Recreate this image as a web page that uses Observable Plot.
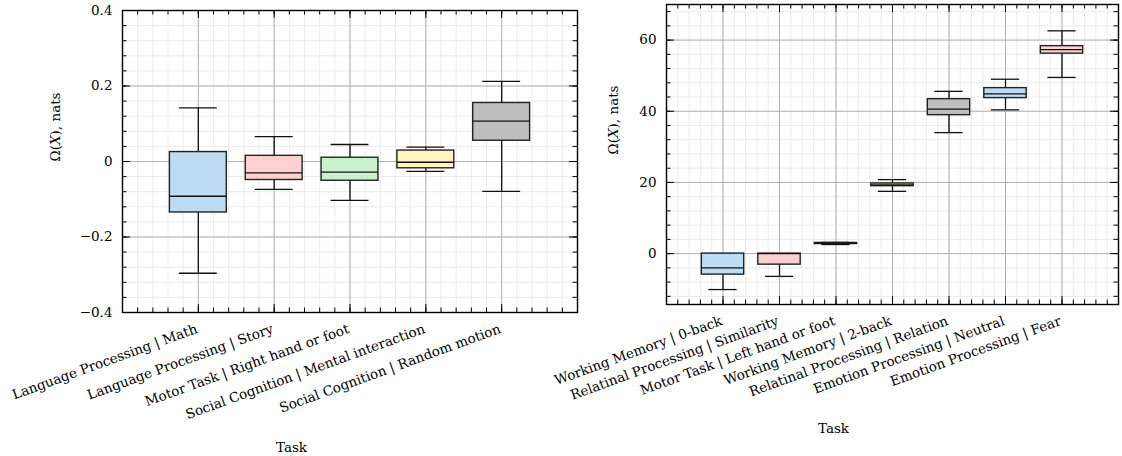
<!DOCTYPE html>
<html><head><meta charset="utf-8">
<script src="https://cdn.jsdelivr.net/npm/d3@7"></script>
<script src="https://cdn.jsdelivr.net/npm/@observablehq/plot@0.6"></script>
<style>
body{margin:0;background:#fff}
#fig{display:flex;width:1122px;height:456px;overflow:visible}
#fig svg{overflow:visible}
</style>
</head><body><div id="fig"></div>
<script>
// ---- Left panel data ----
const leftTasks = ["Language Processing | Math","Language Processing | Story","Motor Task | Right hand or foot","Social Cognition | Mental interaction","Social Cognition | Random motion"];
const leftLow  = [-0.296, -0.074, -0.103, -0.026, -0.079];
const leftQ1   = [-0.135, -0.049, -0.051, -0.018, 0.055];
const leftMed  = [-0.092, -0.030, -0.028, -0.002, 0.107];
const leftQ3   = [0.025, 0.015, 0.010, 0.029, 0.155];
const leftHigh = [0.142, 0.066, 0.045, 0.038, 0.212];
const leftYTicks = [-0.4, -0.2, 0, 0.2, 0.4];
const leftYTickLabels = ["\u22120.4", "\u22120.2", "0", "0.2", "0.4"];

// ---- Right panel data ----
const rightTasks = ["Working Memory | 0-back","Relatinal Processing | Similarity","Motor Task | Left hand or foot","Working Memory | 2-back","Relatinal Processing | Relation","Emotion Processing | Neutral","Emotion Processing | Fear"];
const rightLow  = [-10.1, -6.4, 2.55, 17.5, 34.0, 40.4, 49.5];
const rightQ1   = [-5.9, -3.1, 2.7, 18.95, 38.9, 43.7, 56.2];
const rightMed  = [-4.0, 0.0, 2.85, 19.3, 40.6, 44.9, 57.3];
const rightQ3   = [0.0, 0.0, 3.0, 19.7, 43.4, 46.5, 58.3];
const rightHigh = [0.0, 0.0, 3.15, 20.8, 45.6, 49.0, 62.6];
const rightYTicks = [0, 20, 40, 60];
const rightYTickLabels = ["0", "20", "40", "60"];

const palette = ["#bddcf3", "#ffd0d0", "#c9f1cd", "#fff4be", "#bebebe"];
const yLabelText = "\u03A9(X), nats";
const xLabelText = "Task";

function panel(o) {
  const rows = o.tasks.map((t, i) => ({
    task: t, pos: i + 1, low: o.low[i], q1: o.q1[i], med: o.med[i], q3: o.q3[i], high: o.high[i],
    color: palette[i % palette.length]
  }));
  const plotW = o.width - o.marginLeft - o.marginRight;
  const plotH = o.height - o.marginTop - o.marginBottom;
  const xMax = o.tasks.length + 1;
  const minorX = d3.range(0, Math.round(xMax / 0.2) + 1).map(k => +(k * 0.2).toFixed(6));
  const majorX = rows.map(d => d.pos);
  const [y0, y1] = o.yDomain;
  const minorY = d3.range(Math.ceil(y0 / o.yMinor - 1e-9), Math.floor(y1 / o.yMinor + 1e-9) + 1).map(k => +(k * o.yMinor).toFixed(6));
  const majLen = 8, minLen = 4.5;
  const half = 0.375, cap = 0.25;
  const fmt = new Map(o.yTicks.map((v, i) => [v, o.yTickLabels[i]]));
  return Plot.plot({
    width: o.width, height: o.height,
    marginLeft: o.marginLeft, marginRight: o.marginRight, marginTop: o.marginTop, marginBottom: o.marginBottom,
    style: {fontFamily: "'DejaVu Serif', serif", fontSize: "13.5px", color: "#000", background: "transparent", overflow: "visible"},
    x: {domain: [0, xMax], axis: null},
    y: {domain: o.yDomain, axis: null},
    marks: [
      Plot.gridX(minorX, {stroke: "#ebebeb", strokeOpacity: 1, strokeWidth: 1}),
      Plot.gridY(minorY, {stroke: "#ebebeb", strokeOpacity: 1, strokeWidth: 1}),
      Plot.gridX(majorX, {stroke: "#b2b2b2", strokeOpacity: 1, strokeWidth: 1}),
      Plot.gridY(o.yTicks, {stroke: "#b2b2b2", strokeOpacity: 1, strokeWidth: 1}),
      // whiskers
      Plot.ruleX(rows, {x: "pos", y1: "low", y2: "q1", stroke: "#111", strokeWidth: 1.3}),
      Plot.ruleX(rows, {x: "pos", y1: "q3", y2: "high", stroke: "#111", strokeWidth: 1.3}),
      Plot.ruleY(rows, {y: "low", x1: d => d.pos - cap, x2: d => d.pos + cap, stroke: "#111", strokeWidth: 1.3}),
      Plot.ruleY(rows, {y: "high", x1: d => d.pos - cap, x2: d => d.pos + cap, stroke: "#111", strokeWidth: 1.3}),
      // boxes
      Plot.rect(rows, {x1: d => d.pos - half, x2: d => d.pos + half, y1: "q1", y2: "q3", fill: "color", stroke: "#222", strokeWidth: 1.4}),
      Plot.ruleY(rows, {y: "med", x1: d => d.pos - half, x2: d => d.pos + half, stroke: "#111", strokeWidth: 1.3}),
      // frame
      Plot.frame({stroke: "#000", strokeWidth: 1.4}),
      // inward ticks, four sides
      Plot.ruleX(minorX, {x: d => d, insetTop: plotH - minLen, stroke: "#000", strokeWidth: 1}),
      Plot.ruleX(minorX, {x: d => d, insetBottom: plotH - minLen, stroke: "#000", strokeWidth: 1}),
      Plot.ruleX(majorX, {x: d => d, insetTop: plotH - majLen, stroke: "#000", strokeWidth: 1}),
      Plot.ruleX(majorX, {x: d => d, insetBottom: plotH - majLen, stroke: "#000", strokeWidth: 1}),
      Plot.ruleY(minorY, {y: d => d, insetRight: plotW - minLen, stroke: "#000", strokeWidth: 1}),
      Plot.ruleY(minorY, {y: d => d, insetLeft: plotW - minLen, stroke: "#000", strokeWidth: 1}),
      Plot.ruleY(o.yTicks, {y: d => d, insetRight: plotW - majLen, stroke: "#000", strokeWidth: 1}),
      Plot.ruleY(o.yTicks, {y: d => d, insetLeft: plotW - majLen, stroke: "#000", strokeWidth: 1}),
      // y tick labels
      Plot.axisY(o.yTicks, {anchor: "left", tickSize: 0, tickPadding: 10, tickFormat: d => fmt.get(d), label: null}),
      // rotated category labels
      Plot.text(rows, {x: "pos", frameAnchor: "bottom", text: "task", rotate: -20, textAnchor: "end", lineAnchor: "bottom", dy: 20}),
      // axis titles
      Plot.text([yLabelText], {frameAnchor: "left", text: d => d, rotate: -90, lineAnchor: "middle", dx: o.yLabelDx}),
      Plot.text([xLabelText], {frameAnchor: "bottom", text: d => d, lineAnchor: "middle", dx: o.xLabelDx, dy: o.xLabelDy})
    ]
  });
}

const left = panel({
  tasks: leftTasks, low: leftLow, q1: leftQ1, med: leftMed, q3: leftQ3, high: leftHigh,
  yDomain: [-0.4, 0.4], yTicks: leftYTicks, yTickLabels: leftYTickLabels, yMinor: 0.04,
  width: 590, height: 456, marginLeft: 122, marginRight: 13, marginTop: 10, marginBottom: 144,
  yLabelDx: -67, xLabelDx: -58.5, xLabelDy: 135
});
const right = panel({
  tasks: rightTasks, low: rightLow, q1: rightQ1, med: rightMed, q3: rightQ3, high: rightHigh,
  yDomain: [-14.3, 70], yTicks: rightYTicks, yTickLabels: rightYTickLabels, yMinor: 4,
  width: 532, height: 456, marginLeft: 76, marginRight: 4, marginTop: 4, marginBottom: 152,
  yLabelDx: -52.5, xLabelDx: -59, xLabelDy: 124
});
const fig = document.getElementById("fig");
fig.appendChild(left);
fig.appendChild(right);
// italic X in the y-axis title
for (const t of fig.querySelectorAll("text")) {
  if (t.textContent === yLabelText) {
    t.textContent = "";
    t.appendChild(document.createTextNode("\u03A9("));
    const ts = document.createElementNS("http://www.w3.org/2000/svg", "tspan");
    ts.setAttribute("font-style", "italic");
    ts.textContent = "X";
    t.appendChild(ts);
    t.appendChild(document.createTextNode("), nats"));
  }
}
</script>
</body></html>
